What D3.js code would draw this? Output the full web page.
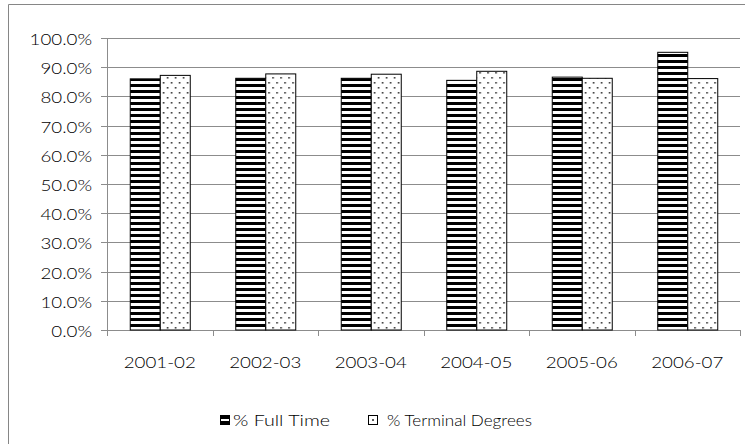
<!DOCTYPE html>
<html><head><meta charset="utf-8">
<script src="https://cdn.jsdelivr.net/npm/d3@7"></script>
<style>html,body{margin:0;padding:0;background:#fff;}svg{display:block;}</style>
</head><body>
<svg id="chart" width="745" height="444"></svg>
<script>
const categories = ["2001-02","2002-03","2003-04","2004-05","2005-06","2006-07"];
const seriesNames = ["% Full Time","% Terminal Degrees"];
const fullTime = [86.0, 86.2, 86.2, 85.5, 86.6, 95.1];
const terminal = [87.2, 87.7, 87.6, 88.6, 86.2, 86.1];
const yTicks = [0,10,20,30,40,50,60,70,80,90,100];

(function(){
const svg = d3.select("#chart");
const W = 745, H = 444;
const pLeft = 107, pRight = 740, pTop = 38, pBottom = 330;
const FONT = "Lato, 'Open Sans', sans-serif";
const FS = 15;
const FW = 300;
const SX = 1.25;

const defs = svg.append("defs");
const ps = defs.append("pattern").attr("id","stripes").attr("patternUnits","userSpaceOnUse")
  .attr("width",8).attr("height",6);
ps.append("rect").attr("width",8).attr("height",6).attr("fill","#fff");
ps.append("rect").attr("y",0).attr("width",8).attr("height",3).attr("fill","#000");
const pd = defs.append("pattern").attr("id","dots").attr("patternUnits","userSpaceOnUse")
  .attr("width",8).attr("height",10);
pd.append("rect").attr("width",8).attr("height",10).attr("fill","#fff");
pd.append("rect").attr("x",1).attr("y",2).attr("width",1.6).attr("height",1.6).attr("fill","#333");
pd.append("rect").attr("x",5).attr("y",7).attr("width",1.6).attr("height",1.6).attr("fill","#333");
const fills = ["url(#stripes)","url(#dots)"];

svg.append("path").attr("d",`M8.5,${H} V4.5 H${W}`).attr("fill","none").attr("stroke","#868686");

const y = d3.scaleLinear().domain([0,100]).range([pBottom,pTop]);
const x0 = d3.scaleBand().domain(categories).range([pLeft,pRight]);
const groupW = 60;
const x1 = d3.scaleBand().domain(seriesNames).range([0,groupW]);

svg.append("g").selectAll("line").data(yTicks.filter(d=>d>0)).join("line")
  .attr("x1",pLeft).attr("x2",pRight)
  .attr("y1",d=>Math.round(y(d))+0.5).attr("y2",d=>Math.round(y(d))+0.5)
  .attr("stroke","#8c8c8c");

const yg = svg.append("g");
yg.append("line").attr("x1",pLeft+0.5).attr("x2",pLeft+0.5).attr("y1",pTop).attr("y2",pBottom).attr("stroke","#8c8c8c");
yg.selectAll("line.t").data(yTicks).join("line").attr("class","t")
  .attr("x1",pLeft-6).attr("x2",pLeft).attr("y1",d=>Math.round(y(d))+0.5).attr("y2",d=>Math.round(y(d))+0.5)
  .attr("stroke","#8c8c8c");
yg.selectAll("text").data(yTicks).join("text")
  .attr("transform",d=>`translate(92,${y(d)+7}) scale(${SX},1)`)
  .attr("text-anchor","end").attr("font-family",FONT).attr("font-weight",FW).attr("font-size",FS).attr("fill","#000")
  .text(d=>d3.format(".1f")(d)+"%");

const xg = svg.append("g");
xg.append("line").attr("x1",pLeft).attr("x2",pRight).attr("y1",pBottom+0.5).attr("y2",pBottom+0.5).attr("stroke","#8c8c8c");
const bounds = categories.map(c=>x0(c)+x0.bandwidth()).concat([pLeft]);
xg.selectAll("line.t").data(bounds).join("line").attr("class","t")
  .attr("x1",d=>Math.round(d)+0.5).attr("x2",d=>Math.round(d)+0.5).attr("y1",pBottom).attr("y2",pBottom+6)
  .attr("stroke","#8c8c8c");
xg.selectAll("text").data(categories).join("text")
  .attr("transform",d=>`translate(${x0(d)+x0.bandwidth()/2},${pBottom+38}) scale(${SX},1)`)
  .attr("text-anchor","middle").attr("font-family",FONT).attr("font-weight",FW).attr("font-size",FS).attr("fill","#000")
  .text(d=>d);

const data = categories.map((c,i)=>({c, vals:[fullTime[i], terminal[i]]}));
const off = (x0.bandwidth()-groupW)/2;
const g = svg.append("g").selectAll("g").data(data).join("g")
  .attr("transform",d=>`translate(${x0(d.c)+off},0)`);
g.selectAll("rect").data(d=>d.vals.map((v,k)=>({v,k}))).join("rect")
  .attr("x",d=>x1(seriesNames[d.k])+0.5)
  .attr("y",d=>y(d.v))
  .attr("width",x1.bandwidth())
  .attr("height",d=>pBottom-y(d.v))
  .attr("fill",d=>fills[d.k]).attr("stroke","#000").attr("stroke-width",1);

const legMarkX = [220, 368];
const legTextX = [233, 387];
const legTextW = [97, 145];
const lg = svg.append("g");
seriesNames.forEach((s,k)=>{
  lg.append("rect").attr("x",legMarkX[k]+0.5).attr("y",415.5).attr("width",9).attr("height",9)
    .attr("fill",k===0?"#000":"#fff").attr("stroke","#000");
  if(k===0){
    lg.append("rect").attr("x",legMarkX[k]+1).attr("y",419).attr("width",8).attr("height",2).attr("fill","#fff");
  } else {
    lg.append("rect").attr("x",legMarkX[k]+4.2).attr("y",419.2).attr("width",1.6).attr("height",1.6).attr("fill","#000");
  }
  lg.append("text").attr("x",legTextX[k]).attr("y",426)
    .attr("textLength",legTextW[k]).attr("lengthAdjust","spacingAndGlyphs")
    .attr("font-family",FONT).attr("font-weight",FW).attr("font-size",FS).attr("fill","#000").text(s);
});
})();
</script>
</body></html>
